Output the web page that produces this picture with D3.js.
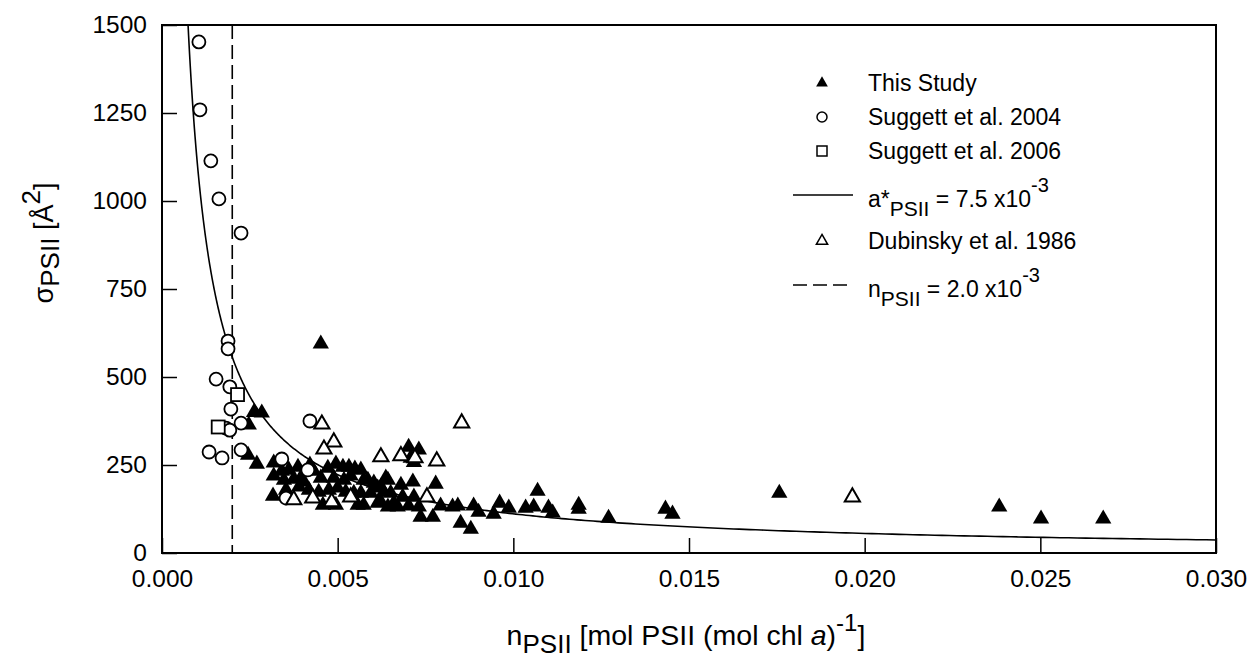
<!DOCTYPE html>
<html>
<head>
<meta charset="utf-8">
<script src="https://cdn.jsdelivr.net/npm/d3@7"></script>
<style>
  body { margin: 0; background: #fff; }
  text { font-family: "Liberation Sans", Arial, sans-serif; fill: #000; }
</style>
</head>
<body>
<svg id="chart" width="1255" height="663"></svg>
<script>
// This Study: PSII per chlorophyll (n) and functional cross-section (sigma, Å²)
const thisStudyN = [0.00262, 0.00284, 0.00247, 0.00452, 0.00245, 0.0027, 0.00318, 0.00318, 0.00341, 0.00316,
  0.00361, 0.00387, 0.00395, 0.00421, 0.00432, 0.00452, 0.00472, 0.00495, 0.00515, 0.00532,
  0.00549, 0.00566, 0.00347, 0.00375, 0.00404, 0.00489, 0.00518, 0.00353, 0.0039, 0.00418,
  0.00446, 0.00475, 0.005, 0.00523, 0.00546, 0.00458, 0.00495, 0.00537, 0.00586, 0.00603,
  0.00623, 0.00643, 0.00637, 0.0068, 0.00714, 0.00779, 0.00702, 0.00731, 0.00708, 0.00717,
  0.00574, 0.00614, 0.00631, 0.00651, 0.00594, 0.00566, 0.00623, 0.0066, 0.00557, 0.00574,
  0.00614, 0.00643, 0.00671, 0.00685, 0.00717, 0.00702, 0.00731, 0.00736, 0.00771, 0.00793,
  0.00827, 0.00842, 0.0085, 0.00879, 0.00887, 0.00901, 0.00944, 0.00961, 0.00987, 0.01035,
  0.01058, 0.01069, 0.011, 0.01112, 0.01186, 0.01186, 0.01271, 0.01433, 0.01453, 0.01757,
  0.02383, 0.02502, 0.02679];
const thisStudySigma = [400, 398, 364, 594, 278, 253, 256, 219, 233, 162,
  236, 244, 213, 250, 233, 213, 241, 253, 244, 244,
  239, 236, 207, 210, 202, 213, 207, 179, 188, 179,
  173, 179, 185, 173, 170, 136, 136, 219, 207, 199,
  188, 207, 213, 193, 202, 196, 301, 293, 270, 258,
  207, 185, 173, 170, 170, 170, 145, 142, 136, 136,
  142, 131, 131, 159, 159, 134, 131, 102, 102, 134,
  131, 134, 85, 68, 134, 116, 111, 142, 128, 128,
  131, 176, 128, 114, 136, 125, 99, 125, 111, 170,
  131, 97, 97];

// Suggett et al. 2004
const suggett2004N = [0.00105, 0.00108, 0.00139, 0.00162, 0.00225, 0.00188, 0.00188, 0.00154, 0.00193, 0.00196,
  0.00182, 0.00193, 0.00225, 0.00225, 0.00134, 0.00171, 0.00341, 0.00421, 0.00415, 0.00353];
const suggett2004Sigma = [1452, 1259, 1114, 1006, 909, 602, 580, 494, 472, 409,
  355, 349, 369, 293, 287, 270, 267, 375, 236, 156];

// Suggett et al. 2006
const suggett2006N = [0.00215, 0.0016];
const suggett2006Sigma = [450, 358];

// Dubinsky et al. 1986
const dubinskyN = [0.00455, 0.00489, 0.00461, 0.00623, 0.0068, 0.0072, 0.00782, 0.00853, 0.00375, 0.00429,
  0.00483, 0.00537, 0.00754, 0.01965];
const dubinskySigma = [366, 315, 295, 273, 276, 270, 261, 369, 151, 156,
  145, 159, 159, 159];

// Reference lines
const aStarPSII = 7.5e-3;      // m² (mg chl a)⁻¹
const nPSIIRef = 2.0e-3;       // mol PSII (mol chl a)⁻¹
const chlMolarMass = 893.5e3;  // mg mol⁻¹
const avogadro = 6.022e23;

// Axis ticks
const xTicks = [0, 0.005, 0.010, 0.015, 0.020, 0.025, 0.030];
const yTicks = [0, 250, 500, 750, 1000, 1250, 1500];

const svg = d3.select("#chart");
const plotL = 162, plotR = 1216, plotT = 25, plotB = 553;

const x = d3.scaleLinear().domain([0, 0.03]).range([plotL, plotR]);
const y = d3.scaleLinear().domain([0, 1500]).range([plotB, plotT]);

// Axes with inward ticks
const xAxis = svg.append("g").attr("transform", `translate(0,${plotB})`)
  .call(d3.axisBottom(x).tickValues(xTicks).tickSize(-15).tickPadding(17)
    .tickFormat(d3.format(".3f")));
const yAxis = svg.append("g").attr("transform", `translate(${plotL},0)`)
  .call(d3.axisLeft(y).tickValues(yTicks).tickSize(-15).tickPadding(15)
    .tickFormat(d3.format("d")));
[xAxis, yAxis].forEach(g => {
  g.select(".domain").remove();
  g.selectAll(".tick line").attr("stroke", "#000").attr("stroke-width", 1.5);
  g.selectAll(".tick text").style("font-size", "24.5px").style("font-family", "'Liberation Sans', Arial, sans-serif");
});

// Plot frame
svg.append("rect").attr("x", plotL).attr("y", plotT)
  .attr("width", plotR - plotL).attr("height", plotB - plotT)
  .attr("fill", "none").attr("stroke", "#000").attr("stroke-width", 2);

const plot = svg.append("g");
plot.append("clipPath").attr("id", "clip").append("rect")
  .attr("x", plotL).attr("y", plotT).attr("width", plotR - plotL).attr("height", plotB - plotT);

// Dashed reference line at n_PSII = 2.0e-3
plot.append("line")
  .attr("x1", x(nPSIIRef)).attr("x2", x(nPSIIRef))
  .attr("y1", y(1500)).attr("y2", y(0))
  .attr("stroke", "#000").attr("stroke-width", 1.6).attr("stroke-dasharray", "14,6");

// sigma = a* · M_chl / (N_A · n), expressed in Å²
const sigmaFromN = n => aStarPSII * chlMolarMass / (avogadro * n) * 1e20;
const nStart = sigmaFromN(1) / 1600;
const curveN = d3.range(0, 401).map(i => nStart * Math.pow(0.03 / nStart, i / 400));
plot.append("path")
  .datum(curveN)
  .attr("clip-path", "url(#clip)")
  .attr("fill", "none").attr("stroke", "#000").attr("stroke-width", 1.6)
  .attr("d", d3.line().x(d => x(d)).y(d => y(sigmaFromN(d))));

// Markers
const triSize = 115, circR = 6.5, sqSide = 13;
const triPath = d3.symbol().type(d3.symbolTriangle).size(triSize)();

plot.selectAll(".this").data(d3.range(thisStudyN.length)).join("path")
  .attr("transform", i => `translate(${x(thisStudyN[i])},${y(thisStudySigma[i])})`)
  .attr("d", triPath).attr("fill", "#000");

plot.selectAll(".s04").data(d3.range(suggett2004N.length)).join("circle")
  .attr("cx", i => x(suggett2004N[i])).attr("cy", i => y(suggett2004Sigma[i]))
  .attr("r", circR).attr("fill", "#fff").attr("stroke", "#000").attr("stroke-width", 1.8);

plot.selectAll(".s06").data(d3.range(suggett2006N.length)).join("rect")
  .attr("x", i => x(suggett2006N[i]) - sqSide / 2).attr("y", i => y(suggett2006Sigma[i]) - sqSide / 2)
  .attr("width", sqSide).attr("height", sqSide)
  .attr("fill", "#fff").attr("stroke", "#000").attr("stroke-width", 1.8);

plot.selectAll(".dub").data(d3.range(dubinskyN.length)).join("path")
  .attr("transform", i => `translate(${x(dubinskyN[i])},${y(dubinskySigma[i])})`)
  .attr("d", d3.symbol().type(d3.symbolTriangle).size(100)())
  .attr("fill", "#fff").attr("stroke", "#000").attr("stroke-width", 2);

// Legend
const lg = svg.append("g");
const lx = 822, tx = 868;
const rows = [83, 117, 151, 195, 241, 285];
lg.append("path").attr("transform", `translate(${lx},${rows[0]})`)
  .attr("d", d3.symbol().type(d3.symbolTriangle).size(60)()).attr("fill", "#000");
lg.append("circle").attr("cx", lx).attr("cy", rows[1]).attr("r", 5)
  .attr("fill", "#fff").attr("stroke", "#000").attr("stroke-width", 1.5);
lg.append("rect").attr("x", lx - 5).attr("y", rows[2] - 5).attr("width", 10).attr("height", 10)
  .attr("fill", "#fff").attr("stroke", "#000").attr("stroke-width", 1.5);
lg.append("line").attr("x1", 793).attr("x2", 853).attr("y1", rows[3]).attr("y2", rows[3])
  .attr("stroke", "#000").attr("stroke-width", 1.6);
lg.append("path").attr("transform", `translate(${lx},${rows[4]})`)
  .attr("d", d3.symbol().type(d3.symbolTriangle).size(55)())
  .attr("fill", "#fff").attr("stroke", "#000").attr("stroke-width", 1.5);
lg.append("line").attr("x1", 793).attr("x2", 853).attr("y1", rows[5]).attr("y2", rows[5])
  .attr("stroke", "#000").attr("stroke-width", 1.6).attr("stroke-dasharray", "14,6");

const fs = 23;
function legendText(yy, off) {
  return lg.append("text").attr("x", tx).attr("y", yy + off).style("font-size", fs + "px");
}
legendText(rows[0], 8).text("This Study");
legendText(rows[1], 8).text("Suggett et al. 2004");
legendText(rows[2], 8).text("Suggett et al. 2006");
{
  const t = legendText(rows[3], 12);
  t.append("tspan").text("a*");
  t.append("tspan").attr("dy", 9).style("font-size", "21px").text("PSII");
  t.append("tspan").attr("dy", -9).text(" = 7.5 x10");
  t.append("tspan").attr("dy", -15).style("font-size", "20px").text("-3");
}
legendText(rows[4], 8).text("Dubinsky et al. 1986");
{
  const t = legendText(rows[5], 12);
  t.append("tspan").text("n");
  t.append("tspan").attr("dy", 9).style("font-size", "21px").text("PSII");
  t.append("tspan").attr("dy", -9).text(" = 2.0 x10");
  t.append("tspan").attr("dy", -15).style("font-size", "20px").text("-3");
}

// Axis titles
{
  const t = svg.append("text").attr("x", 686).attr("y", 645)
    .attr("text-anchor", "middle").style("font-size", "28.5px");
  t.append("tspan").text("n");
  t.append("tspan").attr("dy", 8).style("font-size", "26px").text("PSII");
  t.append("tspan").attr("dy", -8).text(" [mol PSII (mol chl ");
  t.append("tspan").style("font-style", "italic").text("a");
  t.append("tspan").text(")");
  t.append("tspan").attr("dy", -14).style("font-size", "24px").text("-1");
  t.append("tspan").attr("dy", 14).text("]");
}
{
  const t = svg.append("text")
    .attr("transform", "translate(53,243) rotate(-90)")
    .attr("text-anchor", "middle").style("font-size", "27px");
  t.append("tspan").text("σ");
  t.append("tspan").attr("dy", 6).style("font-size", "26px").text("PSII");
  t.append("tspan").attr("dy", -6).text(" [Å");
  t.append("tspan").attr("dy", -13).style("font-size", "26px").text("2");
  t.append("tspan").attr("dy", 13).text("]");
}
</script>
</body>
</html>
